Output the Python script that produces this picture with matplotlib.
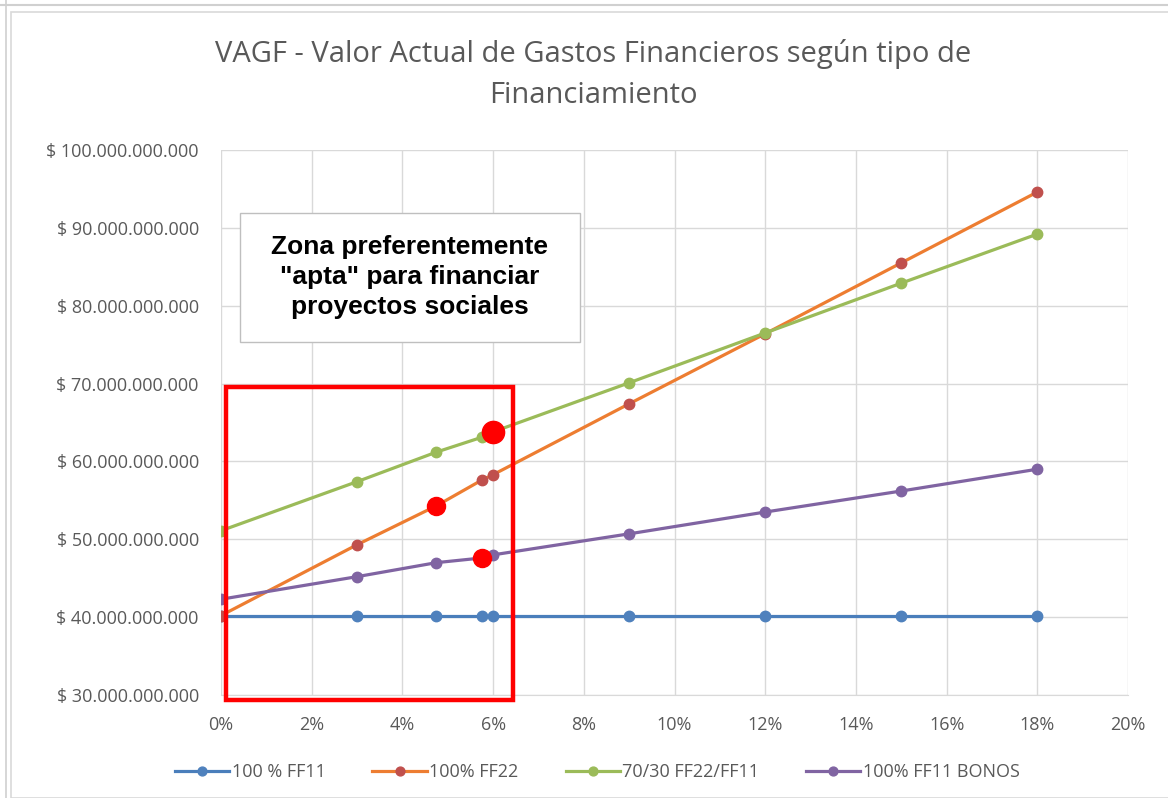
import matplotlib.pyplot as plt
from matplotlib.ticker import FuncFormatter, MultipleLocator
from matplotlib.patches import Rectangle

plt.rcParams['font.family'] = ['Open Sans', 'DejaVu Sans']

# tasa de descuento (%)
tasas = [0, 3, 4.75, 5.75, 6, 9, 12, 15, 18]
# valores en miles de millones
ff11 = [40.2, 40.2, 40.2, 40.2, 40.2, 40.2, 40.2, 40.2, 40.2]
ff22 = [40.2, 49.3, 54.3, 57.6, 58.3, 67.4, 76.4, 85.5, 94.6]
mix_70_30 = [51.1, 57.4, 61.2, 63.1, 63.8, 70.1, 76.5, 82.9, 89.2]
ff11_bonos = [42.3, 45.2, 47.0, 47.6, 48.0, 50.7, 53.5, 56.2, 59.0]

series = ["100 % FF11", "100% FF22", "70/30 FF22/FF11", "100% FF11 BONOS"]
line_colors = ['#4a7ebb', '#ed7d31', '#9bbb59', '#8064a2']
marker_colors = ['#4f81bd', '#c0504d', '#9bbb59', '#8064a2']

# puntos destacados (tasa, valor)
dest_x = [6, 4.75, 5.75]
dest_y = [63.8, 54.3, 47.6]
dest_size = [16, 13, 13]

fig = plt.figure(figsize=(11.68, 7.98), dpi=100)
ax = fig.add_axes([221/1168, 1-695/798, (1128-221)/1168, (695-150)/798])

data = [ff11, ff22, mix_70_30, ff11_bonos]
for vals, name, lc, mc in zip(data, series, line_colors, marker_colors):
    ax.plot(tasas, [v*1e9 for v in vals], color=lc, lw=2.3, marker='o',
            markersize=7.5, markerfacecolor=mc, markeredgecolor=mc, label=name,
            zorder=3)

for x, y, s in zip(dest_x, dest_y, dest_size):
    ax.plot(x, y*1e9, 'o', color='#ff0000', markersize=s, zorder=5)

# zona apta
ax.add_patch(Rectangle((0.11, 29.4e9), 6.33, 40.2e9, fill=False,
                       edgecolor='#ff0000', lw=3.2, zorder=6, clip_on=False))

ax.set_xlim(0, 20)
ax.set_ylim(30e9, 100e9)
ax.xaxis.set_major_locator(MultipleLocator(2))
ax.yaxis.set_major_locator(MultipleLocator(10e9))
ax.xaxis.set_major_formatter(FuncFormatter(lambda v, p: f"{v:.0f}%"))
ax.yaxis.set_major_formatter(FuncFormatter(
    lambda v, p: "$ " + f"{v:,.0f}".replace(",", ".")))
ax.grid(True, color='#d9d9d9', lw=1)
ax.set_axisbelow(True)
for s in ['top', 'right', 'left']:
    ax.spines[s].set_visible(False)
ax.spines['bottom'].set_color('#d9d9d9')
ax.tick_params(length=0, labelsize=13, colors='#595959')
ax.tick_params(axis='y', pad=16)
ax.tick_params(axis='x', pad=15)

# cuadro de texto
ax.add_patch(Rectangle((0.021, 0.648), 0.375, 0.236, transform=ax.transAxes,
                       fc='white', ec='#bfbfbf', lw=1, zorder=7))
ax.text(0.208, 0.767, 'Zona preferentemente\n"apta" para financiar\nproyectos sociales',
        transform=ax.transAxes, ha='center', va='center', fontsize=19,
        fontweight='bold', family=['Liberation Sans', 'DejaVu Sans'],
        linespacing=1.3, zorder=8)

fig.text(0.508, 0.907, "VAGF - Valor Actual de Gastos Financieros según tipo de\nFinanciamiento",
         ha='center', va='center', fontsize=21, color='#595959', linespacing=1.55)

ax.legend(loc='center', bbox_to_anchor=(0.415, -0.141), ncol=4, frameon=False,
          fontsize=13, labelcolor='#595959', handlelength=3.0,
          columnspacing=2.6, handletextpad=0.15, markerscale=0.85)

# bordes de la hoja / área del gráfico
fig.patches.append(Rectangle((11/1168, 0), 1.0, 1-12/798, transform=fig.transFigure,
                             fill=False, edgecolor='#d9d9d9', lw=1.2))
fig.add_artist(plt.Line2D([0, 1], [1-5/798, 1-5/798], transform=fig.transFigure,
                          color='#d0d0d0', lw=1.5))
fig.add_artist(plt.Line2D([6/1168, 6/1168], [0, 1], transform=fig.transFigure,
                          color='#d0d0d0', lw=1.2))

fig.savefig('out.png', dpi=100, facecolor='white')
